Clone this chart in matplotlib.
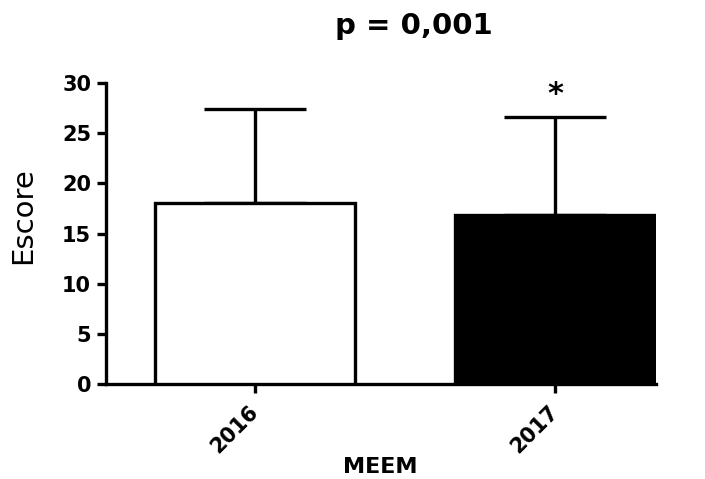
import matplotlib
matplotlib.use('Agg')
import matplotlib.pyplot as plt

# data
years = ['2016', '2017']
means = [18.0, 16.8]
sds = [9.4, 9.8]
fill_colors = ['white', 'black']

plt.rcParams['font.family'] = ['DejaVu Sans']

fig = plt.figure(figsize=(7.05, 4.79), dpi=100)
ax = fig.add_axes([0.150, 0.198, 0.780, 0.629])

lw = 2.4
x = [0, 1]
ax.bar(x, means, width=0.667, color=fill_colors, edgecolor='black', linewidth=lw, zorder=3)
ax.errorbar(x, means, yerr=[[0, 0], sds], fmt='none', ecolor='black',
            elinewidth=lw, capsize=37, capthick=lw, zorder=2)

ax.set_xlim(-0.497, 1.335)
ax.set_ylim(0, 30)
ax.set_yticks(range(0, 31, 5))
ax.set_xticks(x)
ax.set_xticklabels(years, rotation=45, ha='right', va='center', rotation_mode='anchor')

for s in ['top', 'right']:
    ax.spines[s].set_visible(False)
for s in ['left', 'bottom']:
    ax.spines[s].set_linewidth(lw)
ax.tick_params(width=lw, length=6.5, labelsize=15, pad=4)
ax.tick_params(axis='x', pad=11)
for lab in ax.get_xticklabels() + ax.get_yticklabels():
    lab.set_fontweight('bold')

ax.set_ylabel('Escore', fontsize=21)
ax.yaxis.set_label_coords(-0.125, 0.56)
ax.set_xlabel('MEEM', fontsize=16, fontweight='bold', labelpad=0)

# significance marker above 2017
ax.text(1, means[1] + sds[1] + 0.8, '*', ha='center', va='bottom', fontsize=22, fontweight='bold')

fig.text(0.587, 0.946, 'p = 0,001', ha='center', va='center', fontsize=21, fontweight='bold')

fig.savefig('out.png', dpi=100)
